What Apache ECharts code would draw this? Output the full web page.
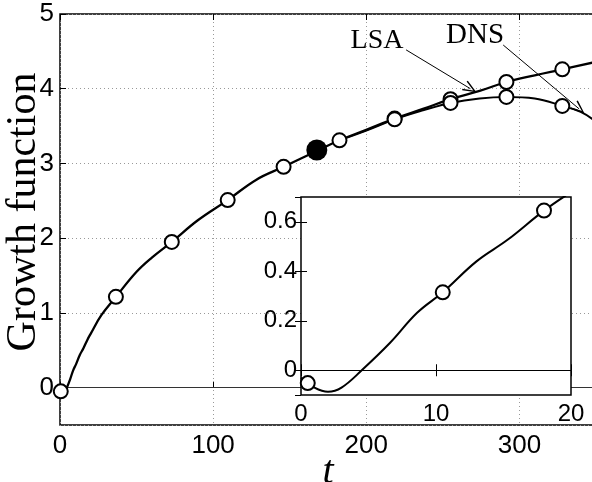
<!DOCTYPE html>
<html>
<head>
<meta charset="utf-8">
<script src="https://cdn.jsdelivr.net/npm/echarts@6/dist/echarts.min.js"></script>
<style>
  html, body { margin: 0; padding: 0; background: #fff; }
  #chart { width: 592px; height: 482px; }
</style>
</head>
<body>
<div id="chart"></div>
<script>
// growth function
const lsaCurve = [
  [0, -0.03], [1, -0.07], [2, -0.087], [3, -0.07], [4.5, 0], [6.6, 0.111],
  [8.6, 0.232], [10.5, 0.315], [13, 0.44], [15.3, 0.527], [18, 0.645], [20, 0.72],
  [27, 0.97], [36.5, 1.215], [50, 1.55], [60, 1.74], [73, 1.95], [90, 2.24],
  [109.5, 2.51], [128, 2.78], [146, 2.955], [168, 3.17], [182.5, 3.31], [200, 3.45],
  [218.5, 3.60], [237, 3.73], [255, 3.86], [274, 3.97], [291.5, 4.09], [310, 4.18],
  [328, 4.26], [350, 4.36]
]
const dnsCurve = [
  [182.5, 3.31], [200, 3.44], [218.5, 3.59], [237, 3.71], [255, 3.81], [274, 3.87],
  [291.5, 3.89], [310, 3.87], [328, 3.77], [340, 3.69], [350, 3.56]
]
const lsaMarkers = [
  [0.5, -0.05], [36.5, 1.215], [73, 1.95], [109.5, 2.51], [146, 2.955],
  [182.5, 3.31], [218.5, 3.60], [255, 3.86], [291.5, 4.09], [328, 4.26]
]
const dnsMarkers = [[218.5, 3.59], [255, 3.81], [291.5, 3.89], [328, 3.77]]
const filledPoint = [[167.7, 3.18]]
const insetMarkers = [[0.5, -0.052], [10.5, 0.315], [18, 0.645]]

// annotation arrows and labels (data coords)
const lsaArrow = [[226, 4.52], [268, 4.0]]
const dnsArrow = [[289.4, 4.585], [339, 3.73]]
const lsaText = [207, 4.64]
const dnsText = [271, 4.72]

const tickFont = { fontFamily: 'Liberation Sans', fontSize: 26, color: '#000' }
const insetFont = { fontFamily: 'Liberation Sans', fontSize: 24, color: '#000' }
const dotted = { color: '#999', width: 1, type: [1, 3] }
const arrowHead = 'path://M5,0 L10,12 L8.8,12.6 L5,3.2 L1.2,12.6 L0,12 Z'

const chart = echarts.init(document.getElementById('chart'), null, { renderer: 'canvas' })

const plain = (extra) => Object.assign({
  axisLine: { show: false },
  axisTick: { show: true, inside: true, length: 6, lineStyle: { color: '#000', width: 1 } },
  splitLine: { show: false },
  axisLabel: { show: false }
}, extra)

const circle = { color: '#fff', borderColor: '#000', borderWidth: 2, opacity: 1 }

chart.setOption({
  animation: false,
  grid: [
    { left: 60, top: 14, width: 536, height: 411, outerBoundsMode: 'none', containLabel: false,
      show: true, borderColor: '#000', borderWidth: 1.5, backgroundColor: 'transparent' },
    { left: 301, top: 197, width: 270, height: 198, outerBoundsMode: 'none', containLabel: false,
      show: true, borderColor: '#000', borderWidth: 1.5, backgroundColor: '#fff', z: 5 }
  ],
  xAxis: [
    plain({
      type: 'value', gridIndex: 0, min: 0, max: 350, interval: 100,
      axisLabel: Object.assign({ show: true, margin: 8, showMaxLabel: false }, tickFont),
      splitLine: { show: true, lineStyle: dotted },
      name: 't', nameLocation: 'middle', nameGap: 27, nameMoveOverlap: false,
      nameTextStyle: { fontFamily: 'Liberation Serif', fontStyle: 'italic', fontSize: 40, color: '#000' }
    }),
    plain({ type: 'value', gridIndex: 0, min: 0, max: 350, interval: 100, position: 'top' }),
    plain({
      type: 'value', gridIndex: 1, min: 0, max: 20, interval: 10, z: 6,
      axisLabel: Object.assign({ show: true, margin: 7 }, insetFont)
    }),
    plain({ type: 'value', gridIndex: 1, min: 0, max: 20, interval: 10, position: 'top', z: 6 })
  ],
  yAxis: [
    plain({
      type: 'value', gridIndex: 0, min: -0.5, max: 5, splitNumber: 5,
      axisLabel: Object.assign({ show: true, margin: 6, showMinLabel: false }, tickFont),
      splitLine: { show: true, lineStyle: dotted },
      name: 'Growth function', nameLocation: 'middle', nameRotate: 90, nameGap: 15, nameMoveOverlap: false,
      nameTextStyle: { fontFamily: 'Liberation Serif', fontSize: 42, color: '#000', padding: [0, 0, 0, 15] }
    }),
    plain({
      type: 'value', gridIndex: 1, min: -0.1, max: 0.7, splitNumber: 4, z: 6,
      axisLabel: Object.assign({ show: true, margin: 4, showMinLabel: false, showMaxLabel: false }, insetFont)
    }),
    plain({ type: 'value', gridIndex: 1, min: -0.1, max: 0.7, splitNumber: 4, position: 'right', z: 6 })
  ],
  series: [
    {
      name: 'LSA', type: 'line', xAxisIndex: 0, yAxisIndex: 0,
      data: lsaCurve, showSymbol: false, smooth: 0.4,
      lineStyle: { color: '#000', width: 2.3 },
      markLine: {
        silent: true, z: 2, symbol: ['none', 'none'], label: { show: false },
        lineStyle: { color: '#000', width: 1, type: 'solid' },
        data: [
          { yAxis: 0, lineStyle: { color: '#333', width: 1 } },
          [{ coord: lsaArrow[0] }, { coord: lsaArrow[1], symbol: arrowHead, symbolSize: [11, 14] }]
        ]
      },
      markPoint: {
        silent: true, z: 2, symbol: 'rect', symbolSize: 1, itemStyle: { color: 'rgba(0,0,0,0)' },
        label: { show: true, position: 'inside', formatter: 'LSA', fontFamily: 'Liberation Serif', fontSize: 28, color: '#000' },
        data: [{ coord: lsaText }]
      }
    },
    {
      name: 'DNS', type: 'line', xAxisIndex: 0, yAxisIndex: 0,
      data: dnsCurve, showSymbol: false, smooth: 0.4,
      lineStyle: { color: '#000', width: 2 },
      markLine: {
        silent: true, z: 2, symbol: ['none', 'none'], label: { show: false },
        lineStyle: { color: '#000', width: 1, type: 'solid' },
        data: [
          [{ coord: dnsArrow[0] }, { coord: dnsArrow[1], symbol: arrowHead, symbolSize: [11, 14] }]
        ]
      },
      markPoint: {
        silent: true, z: 2, symbol: 'rect', symbolSize: 1, itemStyle: { color: 'rgba(0,0,0,0)' },
        label: { show: true, position: 'inside', formatter: 'DNS', fontFamily: 'Liberation Serif', fontSize: 29, color: '#000' },
        data: [{ coord: dnsText }]
      }
    },
    {
      type: 'scatter', xAxisIndex: 0, yAxisIndex: 0, z: 3, data: lsaMarkers.concat(dnsMarkers),
      symbol: 'circle', symbolSize: 14, itemStyle: circle
    },
    {
      type: 'scatter', xAxisIndex: 0, yAxisIndex: 0, z: 3, data: filledPoint,
      symbol: 'circle', symbolSize: 21, itemStyle: { color: '#000', opacity: 1 }
    },
    {
      type: 'line', xAxisIndex: 2, yAxisIndex: 1, z: 7,
      data: lsaCurve.filter(p => p[0] <= 30), showSymbol: false, smooth: 0.4,
      lineStyle: { color: '#000', width: 2 },
      markLine: {
        silent: true, z: 7, symbol: ['none', 'none'], label: { show: false },
        lineStyle: { color: '#000', width: 1, type: 'solid' },
        data: [{ yAxis: 0 }]
      }
    },
    {
      type: 'scatter', xAxisIndex: 2, yAxisIndex: 1, z: 8, data: insetMarkers,
      symbol: 'circle', symbolSize: 14, itemStyle: circle
    }
  ]
})
</script>
</body>
</html>
